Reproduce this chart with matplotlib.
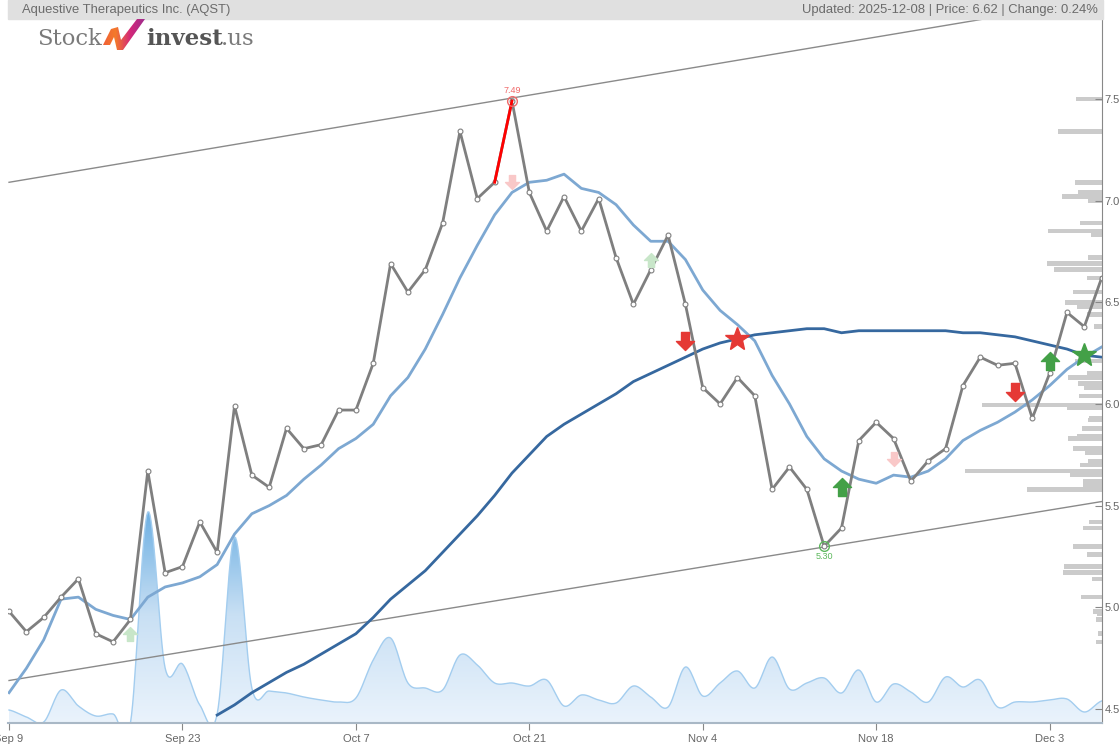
import numpy as np
import matplotlib
matplotlib.use("Agg")
import matplotlib.pyplot as plt
from matplotlib.path import Path
from matplotlib.patches import Rectangle, Polygon
from matplotlib.colors import LinearSegmentedColormap

plt.rcParams['font.family'] = ['Liberation Sans', 'DejaVu Sans']

# trading-day index 0 = Sep 9 ... 63 = Dec 8
tick_pos = [0, 10, 20, 30, 40, 50, 60]
tick_labels = ["Sep 9", "Sep 23", "Oct 7", "Oct 21", "Nov 4", "Nov 18", "Dec 3"]

close = [4.98, 4.88, 4.95, 5.05, 5.14, 4.87, 4.83, 4.94, 5.67, 5.17,
         5.20, 5.42, 5.27, 5.99, 5.65, 5.59, 5.88, 5.78, 5.80, 5.97,
         5.97, 6.20, 6.69, 6.55, 6.66, 6.89, 7.34, 7.01, 7.09, 7.49,
         7.04, 6.85, 7.02, 6.85, 7.01, 6.72, 6.49, 6.66, 6.83, 6.49,
         6.08, 6.00, 6.13, 6.04, 5.58, 5.69, 5.58, 5.30, 5.39, 5.82,
         5.91, 5.83, 5.62, 5.72, 5.78, 6.09, 6.23, 6.19, 6.20, 5.93,
         6.15, 6.45, 6.38, 6.62]

ma_short = [4.58, 4.70, 4.84, 5.04, 5.05, 4.99, 4.96, 4.94, 5.05, 5.10,
            5.12, 5.15, 5.21, 5.36, 5.46, 5.50, 5.55, 5.63, 5.70, 5.78,
            5.83, 5.90, 6.04, 6.13, 6.27, 6.44, 6.62, 6.78, 6.93, 7.04,
            7.09, 7.10, 7.13, 7.06, 7.04, 6.98, 6.88, 6.80, 6.80, 6.71,
            6.56, 6.46, 6.39, 6.31, 6.14, 6.00, 5.84, 5.73, 5.67, 5.63,
            5.61, 5.65, 5.64, 5.67, 5.73, 5.82, 5.87, 5.91, 5.96, 6.02,
            6.09, 6.17, 6.23, 6.28]

ma_long = [np.nan] * 12 + [
    4.47, 4.52, 4.58, 4.63, 4.68, 4.72, 4.77, 4.82, 4.87, 4.95,
    5.04, 5.11, 5.18, 5.27, 5.36, 5.45, 5.55, 5.66, 5.75, 5.84,
    5.90, 5.95, 6.00, 6.05, 6.11, 6.15, 6.19, 6.23, 6.27, 6.30,
    6.32, 6.34, 6.35, 6.36, 6.37, 6.37, 6.35, 6.36, 6.36, 6.36,
    6.36, 6.36, 6.36, 6.35, 6.35, 6.34, 6.33, 6.31, 6.29, 6.27,
    6.24, 6.23]

volume = [13, 6, 1, 33, 17, 7, 9, 0, 211, 55,
          59, 18, 9, 186, 35, 32, 30, 26, 23, 21,
          25, 63, 85, 40, 35, 33, 68, 58, 40, 40,
          37, 43, 17, 28, 23, 20, 37, 26, 16, 56,
          27, 40, 52, 35, 66, 34, 40, 45, 30, 53,
          21, 39, 31, 21, 46, 36, 43, 16, 21, 21,
          23, 24, 11, 22]

# trend channel end points
chan_x = [0, 63]
chan_upper = [7.09, 7.99]
chan_lower = [4.64, 5.52]

# marked high / low points
high_idx = 29
low_idx = 47

# volume by price
vp_price = [7.50, 7.34, 7.09, 7.04, 7.02, 7.00, 6.89, 6.85, 6.83, 6.72,
            6.69, 6.66, 6.62, 6.55, 6.50, 6.48, 6.44, 6.38, 6.21, 6.15,
            6.13, 6.10, 6.08, 6.04, 5.995, 5.98, 5.93, 5.92, 5.88, 5.84,
            5.83, 5.78, 5.76, 5.72, 5.70, 5.67, 5.65, 5.62, 5.60, 5.58,
            5.42, 5.39, 5.30, 5.26, 5.20, 5.17, 5.14, 5.05, 4.98, 4.97,
            4.94, 4.87, 4.83]
vp_vol = [26, 44, 27, 24, 40, 14, 22, 54, 11, 14,
          55, 48, 15, 29, 37, 25, 15, 8, 27, 15,
          34, 24, 18, 23, 120, 35, 13, 14, 20, 25,
          34, 29, 17, 14, 22, 137, 32, 19, 19, 75,
          13, 19, 29, 15, 38, 39, 10, 21, 9, 5,
          6, 4, 6]

# signals: (index, price)
sig_up_faded = [(7, 4.87), (37, 6.71)]
sig_down_faded = [(29, 7.09), (51, 5.73)]
sig_down = [(39, 6.31), (58, 6.06)]
sig_up = [(48, 5.59), (60, 6.21)]
star_red = [(42, 6.32)]
star_green = [(62, 6.24)]

W, H = 1120, 747
fig = plt.figure(figsize=(W / 100, H / 100), dpi=100)
rect = [8 / W, 1 - 723 / H, 1094 / W, 704 / H]
xlim = (-0.06, 63.02)
ylim = (4.431, 7.893)

# volume area
ax_vol = fig.add_axes(rect, zorder=0)
ax_vol.set_axis_off()
ax_vol.set_xlim(xlim)
ax_vol.set_ylim(0, 704)


def catmull(y, n=16):
    y = np.asarray(y, float)
    p = np.concatenate([[y[0]], y, [y[-1]]])
    xs, ys = [], []
    for i in range(len(y) - 1):
        p0, p1, p2, p3 = p[i], p[i + 1], p[i + 2], p[i + 3]
        t = np.linspace(0, 1, n, endpoint=False)
        ys.append(0.5 * (2 * p1 + (-p0 + p2) * t + (2 * p0 - 5 * p1 + 4 * p2 - p3) * t ** 2
                         + (-p0 + 3 * p1 - 3 * p2 + p3) * t ** 3))
        xs.append(i + t)
    xs.append([len(y) - 1])
    ys.append([y[-1]])
    return np.concatenate(xs), np.concatenate(ys)


vx, vy = catmull(volume)
poly = ax_vol.fill_between(vx, vy, -10, color='none')
cmap = LinearSegmentedColormap.from_list('v', ['#eaf3fc', '#c9e0f4', '#6aaee2'])
grad = np.linspace(0, 1, 256).reshape(-1, 1)
img = ax_vol.imshow(grad, extent=[xlim[0], xlim[1], 0, 215], origin='lower',
                    aspect='auto', cmap=cmap, zorder=1)
img.set_clip_path(poly.get_paths()[0], transform=ax_vol.transData)
ax_vol.plot(vx, vy, color='#a3cdef', lw=1, zorder=2)

# volume profile
ax_vp = fig.add_axes(rect, zorder=1)
ax_vp.set_axis_off()
ax_vp.set_ylim(ylim)
ax_vp.set_xlim(1094, 0)
ax_vp.barh(vp_price, vp_vol, height=0.022, left=0, color='#cbcbcb')

# main price axes
ax = fig.add_axes(rect, zorder=2)
ax.patch.set_alpha(0)
ax.set_xlim(xlim)
ax.set_ylim(ylim)
idx = np.arange(len(close))

ax.plot(chan_x, chan_upper, color='#8a8a8a', lw=1)
ax.plot(chan_x, chan_lower, color='#8a8a8a', lw=1)
ax.plot(idx, ma_short, color='#7da8d2', lw=2)
ax.plot(idx, ma_long, color='#36689f', lw=2)
ax.plot(idx, close, color='#7f7f7f', lw=2, marker='o', ms=3.5,
        mfc='white', mec='#7f7f7f', mew=0.8)
ax.plot(idx[high_idx - 1:high_idx + 1], close[high_idx - 1:high_idx + 1], color='#ff0000', lw=2)
ax.plot(high_idx, close[high_idx], 'o', ms=7, mfc='none', mec='#f06a6a', mew=1)
ax.annotate(f"{close[high_idx]:.2f}", (high_idx, close[high_idx]), xytext=(0, 4),
            textcoords='offset points', ha='center', va='bottom', fontsize=6.5, color='#f06a6a')
ax.plot(low_idx, close[low_idx], 'o', ms=7, mfc='none', mec='#5cb85c', mew=1)
ax.annotate(f"{close[low_idx]:.2f}", (low_idx, close[low_idx]), xytext=(0, -4),
            textcoords='offset points', ha='center', va='top', fontsize=6.5, color='#5cb85c')

up = Path([(-0.22, -0.5), (0.22, -0.5), (0.22, 0.0), (0.5, 0.0), (0, 0.5),
           (-0.5, 0.0), (-0.22, 0.0), (-0.22, -0.5)], closed=True)
down = Path([(x, -y) for x, y in up.vertices], closed=True)


def mark(pts, m, color, size):
    for x, y in pts:
        ax.plot(x, y, marker=m, ms=size, color=color, mec=color, ls='none', zorder=5)


mark(sig_up_faded, up, '#c8e6c9', 10)
mark(sig_down_faded, down, '#f9c8c8', 10)
mark(sig_down, down, '#e53935', 13)
mark(sig_up, up, '#43a047', 13)
mark(star_red, '*', '#e53935', 18)
mark(star_green, '*', '#43a047', 18)

ax.set_xticks(tick_pos)
ax.set_xticklabels(tick_labels)
ax.set_yticks([4.5, 5.0, 5.5, 6.0, 6.5, 7.0, 7.5])
ax.yaxis.tick_right()
ax.tick_params(axis='y', direction='in', length=5, color='#888888', labelcolor='#666666',
               labelsize=8, pad=2)
ax.tick_params(axis='x', direction='out', length=5, color='#888888', labelcolor='#666666',
               labelsize=8, pad=3)
for s in ['top', 'left']:
    ax.spines[s].set_visible(False)
ax.spines['right'].set_color('#888888')
ax.spines['bottom'].set_color('#a9b8c6')
ax.spines['bottom'].set_linewidth(1.5)

# header bar
fig.patches.append(Rectangle((8 / W, 1 - 19 / H), 1095 / W, 19 / H, transform=fig.transFigure,
                             color='#e0e0e0', zorder=10))
fig.text(22 / W, 1 - 10 / H, "Aquestive Therapeutics Inc. (AQST)", fontsize=9.4,
         color='#6b6b6b', va='center', ha='left', zorder=11)
fig.text(1098 / W, 1 - 10 / H, "Updated: 2025-12-08 | Price: 6.62 | Change: 0.24%",
         fontsize=9.4, color='#6b6b6b', va='center', ha='right', zorder=11)

# logo
fig.text(37 / W, 1 - 45 / H, "Stock", fontsize=16.3, family='DejaVu Serif', color='#7a7a7a',
         va='baseline', ha='left')
fig.text(146 / W, 1 - 45 / H, "invest", fontsize=16.5, family='DejaVu Serif', color='#555555',
         va='baseline', ha='left', weight='bold')
fig.text(221 / W, 1 - 45 / H, ".us", fontsize=16.5, family='DejaVu Serif', color='#7a7a7a',
         va='baseline', ha='left')

lax = fig.add_axes([100 / W, 1 - 51 / H, 46 / W, 33 / H], zorder=12)
lax.set_axis_off()
logo_pts = [(103, 45), (111, 29), (118, 27), (121, 40), (137, 19), (145, 19),
            (123, 50), (117, 50), (114, 37), (110, 45)]
p = Polygon(logo_pts, closed=True, facecolor='none', edgecolor='none')
lax.add_patch(p)
g = lax.imshow(np.linspace(0, 1, 64).reshape(1, -1), extent=[100, 146, 51, 18],
               aspect='auto',
               cmap=LinearSegmentedColormap.from_list('m', ['#f05a3a', '#f47a2a', '#d3287a', '#9b2d8f']))
g.set_clip_path(p)
lax.set_xlim(100, 146)
lax.set_ylim(51, 18)

fig.savefig("out.png", dpi=100)
